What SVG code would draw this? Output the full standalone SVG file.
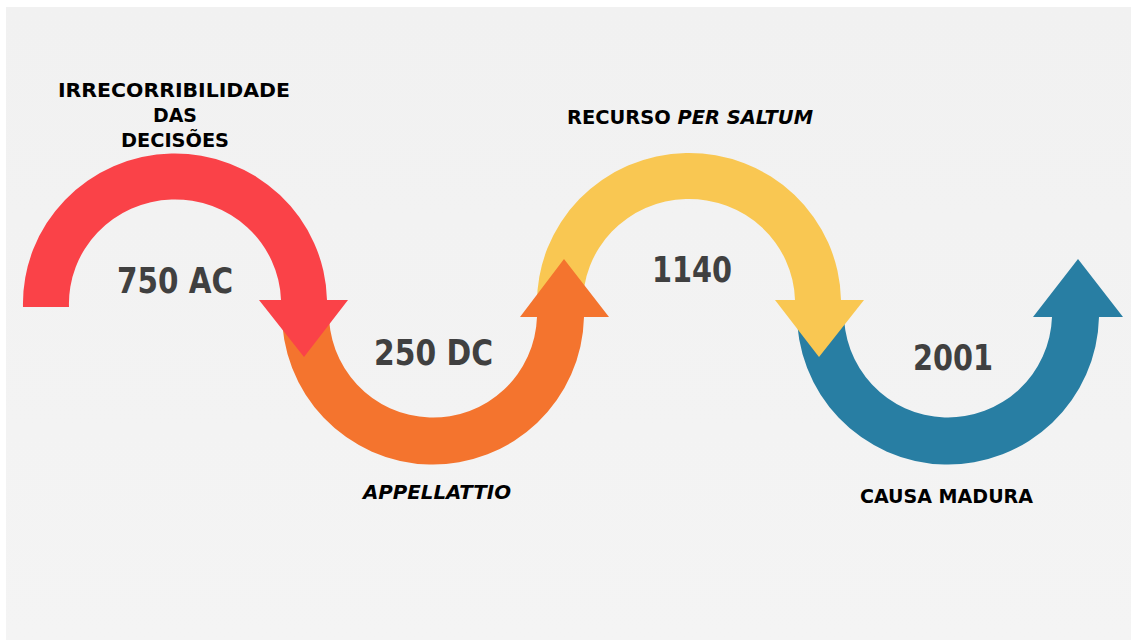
<svg xmlns="http://www.w3.org/2000/svg" width="1131" height="640" viewBox="0 0 1131 640">
<defs>
<linearGradient id="bg" x1="0" y1="0" x2="0" y2="1">
<stop offset="0" stop-color="#f1f1f1"/>
<stop offset="1" stop-color="#f4f4f4"/>
</linearGradient>
<style>
.year{font-family:"DejaVu Sans","Liberation Sans",sans-serif;font-stretch:condensed;font-weight:bold;font-size:35px;fill:#404040;text-anchor:middle}
.lbl{font-family:"DejaVu Sans","Liberation Sans",sans-serif;font-stretch:condensed;font-weight:bold;font-size:20px;fill:#000;text-anchor:middle}
.it{font-style:italic}
</style>
</defs>
<rect width="1131" height="640" fill="#ffffff"/>
<rect x="6" y="7" width="1125" height="633" fill="url(#bg)"/>
<g id="connectors">
<path id="arc-blue" fill="#287ea3" d="M 797 310 A 151 151 0 0 0 1099 317 L 1123 317 L 1078 259 L 1033 317 L 1052 317 A 104 104 0 0 1 844 310 Z"/>
<path id="arc-yellow" fill="#f9c752" d="M 537 306 A 152 150 0 0 1 841 300 L 864 300 L 819 357 L 775 300 L 795 300 A 106 104 0 0 0 583 306 Z"/>
<path id="arc-orange" fill="#f4742e" d="M 282 310 A 151 151 0 0 0 584 317 L 609 317 L 564 259 L 520 317 L 537 317 A 104 104 0 0 1 329 310 Z"/>
<path id="arc-red" fill="#fa4248" d="M 23 307 A 152 150 0 0 1 327 300 L 348 300 L 304 357 L 259 300 L 281 300 A 106 104 0 0 0 69 307 Z"/>
</g>
<g id="node-750">
<text class="year" x="175" y="293" textLength="116" lengthAdjust="spacingAndGlyphs">750 AC</text>
<text class="lbl" x="174" y="97" textLength="232" lengthAdjust="spacingAndGlyphs">IRRECORRIBILIDADE</text>
<text class="lbl" x="175" y="122" textLength="44" lengthAdjust="spacingAndGlyphs">DAS</text>
<text class="lbl" x="175" y="147" textLength="108" lengthAdjust="spacingAndGlyphs">DECISÕES</text>
</g>
<g id="node-250">
<text class="year" x="433.5" y="365" textLength="119" lengthAdjust="spacingAndGlyphs">250 DC</text>
<text class="lbl it" x="437" y="499" textLength="148" lengthAdjust="spacingAndGlyphs">APPELLATTIO</text>
</g>
<g id="node-1140">
<text class="year" x="692" y="282" textLength="80" lengthAdjust="spacingAndGlyphs">1140</text>
<text class="lbl" x="690" y="124" textLength="246" lengthAdjust="spacingAndGlyphs">RECURSO <tspan class="it">PER SALTUM</tspan></text>
</g>
<g id="node-2001">
<text class="year" x="953" y="370" textLength="80" lengthAdjust="spacingAndGlyphs">2001</text>
<text class="lbl" x="946.5" y="503" textLength="173" lengthAdjust="spacingAndGlyphs">CAUSA MADURA</text>
</g>
</svg>
